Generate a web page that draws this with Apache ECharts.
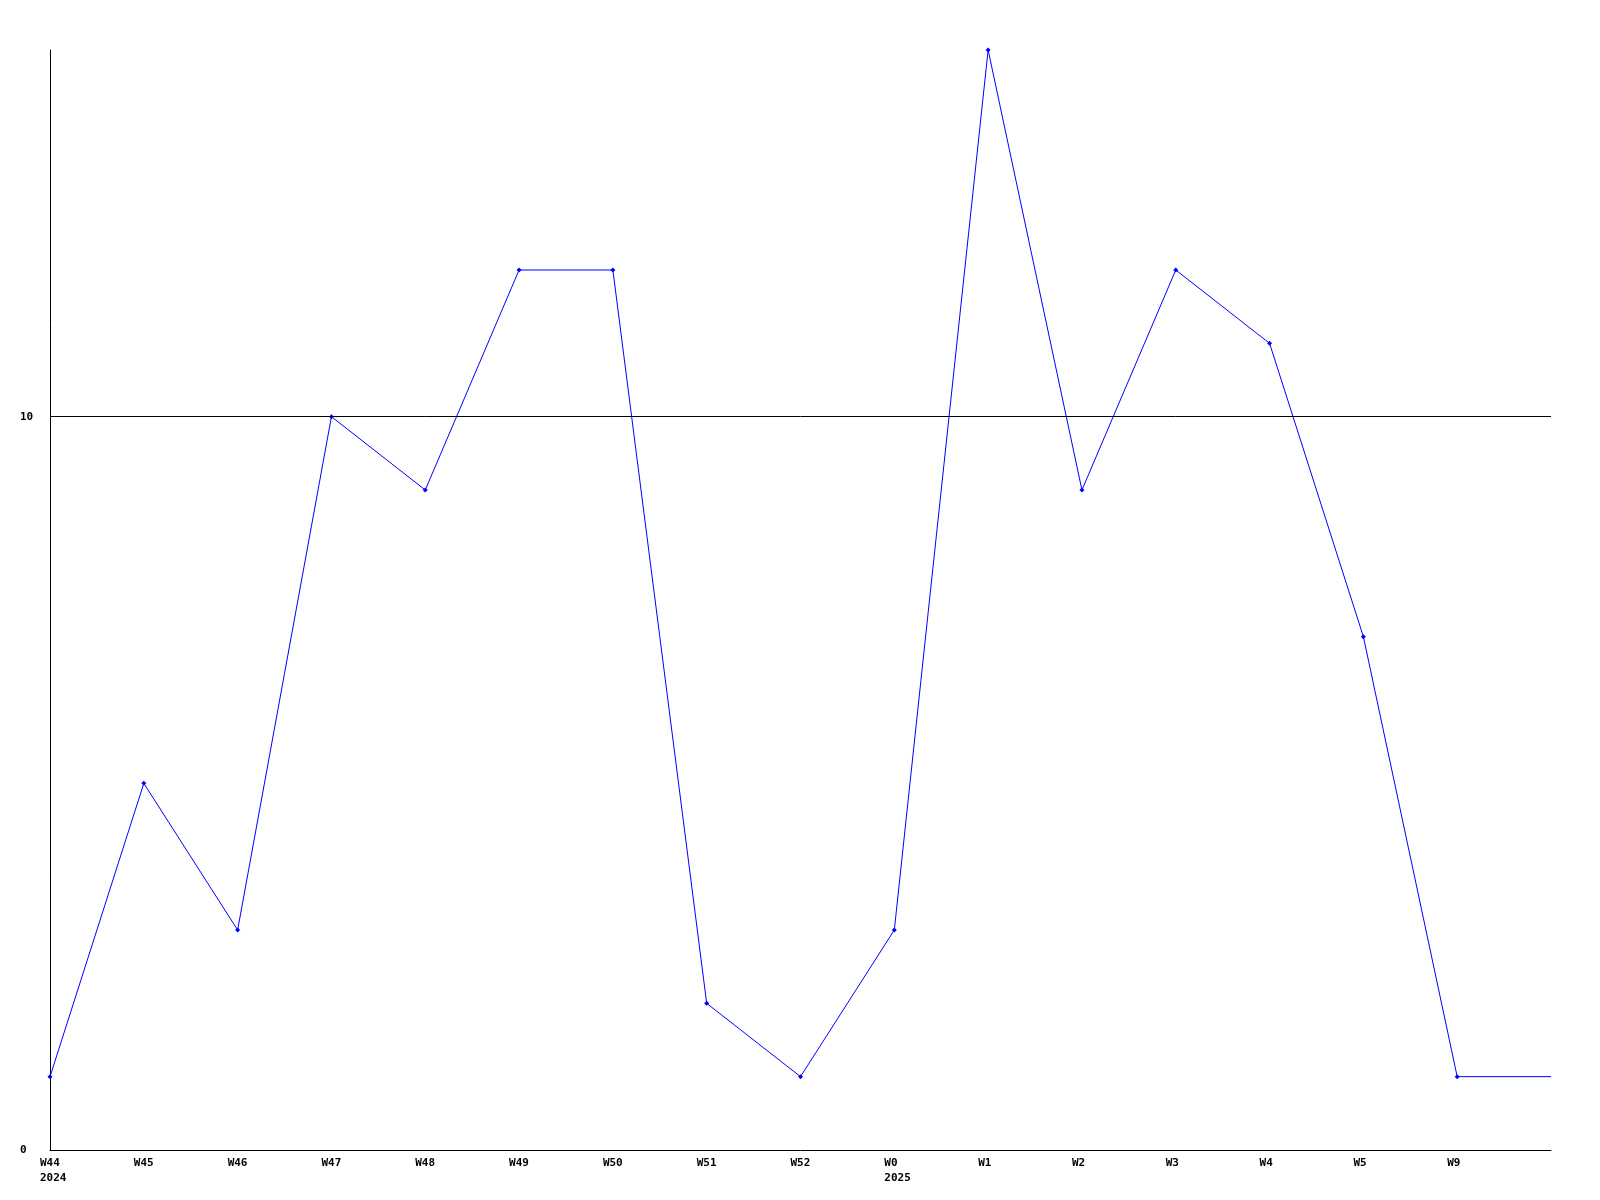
<!DOCTYPE html>
<html>
<head>
<meta charset="utf-8">
<script src="https://cdn.jsdelivr.net/npm/echarts@6/dist/echarts.min.js"></script>
<style>html,body{margin:0;padding:0;background:#fff}#c{width:1600px;height:1200px}</style>
</head>
<body>
<div id="c"></div>
<script>
const weeks = ['W44','W45','W46','W47','W48','W49','W50','W51','W52','W0','W1','W2','W3','W4','W5','W9',''];
const years = ['2024','','','','','','','','','2025','','','','','','',''];
const values = [1,5,3,10,9,12,12,2,1,3,15,9,12,11,7,1,1];
const yMin = 0, yMax = 15, yInterval = 10;
const refLine = 10;

const chart = echarts.init(document.getElementById('c'));
const font = '"DejaVu Sans Mono", monospace';
const seriesData = values.map(function (v, i) {
  return i === values.length - 1 ? {value: v, symbol: 'none'} : v;
});
chart.setOption({
  animation: false,
  backgroundColor: '#fff',
  grid: {left: 50, top: 50, right: 49, bottom: 50},
  xAxis: {
    type: 'category',
    data: weeks,
    boundaryGap: false,
    axisLine: {lineStyle: {color: '#000', width: 1}},
    axisTick: {show: false},
    axisLabel: {
      interval: 0,
      margin: 6,
      align: 'center',
      verticalAlign: 'top',
      formatter: function (v, i) {
        return years[i] ? '{a|' + v + '}\n{a|' + years[i] + '}' : '{a|' + v + '}';
      },
      rich: {a: {width: 20, align: 'left', fontFamily: font, fontWeight: 'bold', fontSize: 11, color: '#000', lineHeight: 15}}
    },
    splitLine: {show: false}
  },
  yAxis: {
    type: 'value',
    min: yMin, max: yMax, interval: yInterval,
    axisLine: {show: true, lineStyle: {color: '#000', width: 1}},
    axisTick: {show: false},
    splitLine: {show: false},
    axisLabel: {
      align: 'left', margin: 30, showMaxLabel: false,
      fontFamily: font, fontWeight: 'bold', fontSize: 11, color: '#000',
      formatter: function (v) { return (v === 0 || v === 10) ? String(v) : ''; }
    }
  },
  series: [{
    type: 'line',
    data: seriesData,
    symbol: 'diamond',
    symbolSize: 5,
    showAllSymbol: true,
    itemStyle: {color: '#0000ff'},
    lineStyle: {color: '#0000ff', width: 1},
    markLine: {
      silent: true,
      symbol: ['none','none'],
      label: {show: false},
      lineStyle: {color: '#000', width: 1, type: 'solid'},
      data: [{yAxis: refLine}]
    },
    z: 3
  }]
});
</script>
</body>
</html>
